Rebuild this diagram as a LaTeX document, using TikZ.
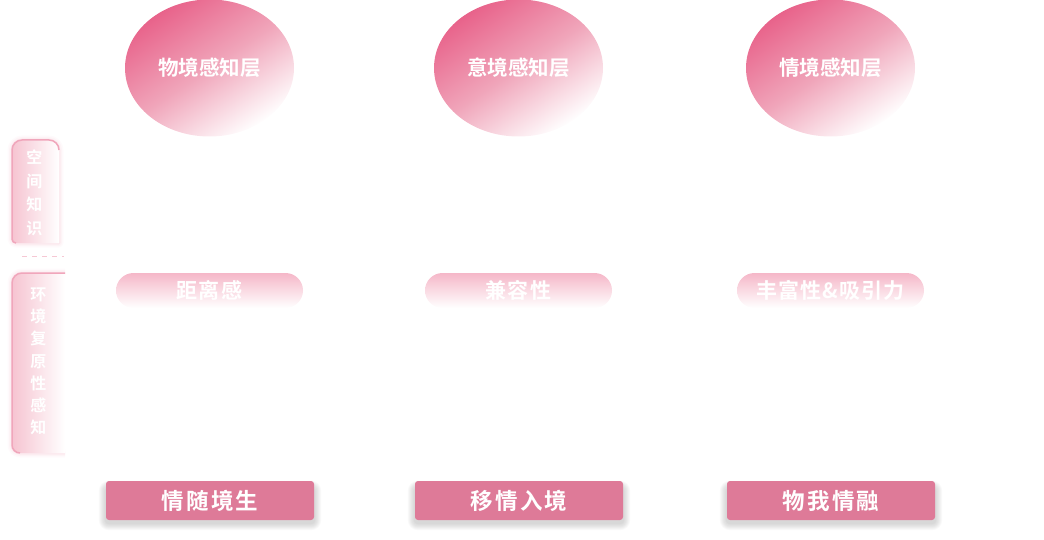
\documentclass[tikz,border=0pt]{standalone}
\usepackage{fontspec}
\newfontfamily\cjk{Noto Sans CJK SC}[BoldFont={Noto Sans CJK SC Bold}]
\usetikzlibrary{shapes.geometric,backgrounds}
\definecolor{pinkA}{HTML}{E8628A}
\definecolor{pinkM}{HTML}{F0A5BA}
\definecolor{pinkP}{HTML}{F5B7C8}
\definecolor{boxC}{HTML}{DE7A98}
\definecolor{lbpink}{HTML}{F6C4D1}
\definecolor{edgepink}{HTML}{F0A6BB}
\definecolor{dashpink}{HTML}{F6C8D4}
\tikzset{
  layer/.style={ellipse, minimum width=169pt, minimum height=137pt, inner sep=0pt,
    top color=pinkA, bottom color=white, middle color=pinkM, shading angle=34,
    text=white, font=\cjk\bfseries\fontsize{20.5}{20.5}\selectfont},
  pill/.style={rectangle, rounded corners=17.5pt, minimum width=187pt, minimum height=35pt, inner sep=0pt,
    top color=pinkP, middle color=pinkP!75!white, bottom color=white,
    text=white, font=\cjk\bfseries\fontsize{21}{21}\selectfont\addfontfeatures{LetterSpace=5}},
  result/.style={rectangle, rounded corners=3pt, minimum width=208pt, minimum height=39pt, inner sep=0pt,
    fill=boxC, text=white, font=\cjk\bfseries\fontsize{22.5}{22.5}\selectfont\addfontfeatures{LetterSpace=9}},
  vlabel/.style={align=center, inner sep=0pt, text=white},
  glow/.style={edgepink, line join=round},
  sepline/.style={dashpink, line width=1pt, dash pattern=on 5pt off 5pt}
}
\begin{document}
\begin{tikzpicture}[x=1pt,y=-1pt]
\useasboundingbox (0,0) rectangle (1044,540);

% top layer ellipses
\node[layer] (l1) at (209.5,68) {\raisebox{1pt}{物境感知层}};
\node[layer] (l2) at (518.5,68) {\raisebox{1pt}{意境感知层}};
\node[layer] (l3) at (830.5,68) {\raisebox{1pt}{情境感知层}};

% pills
\node[pill] (p1) at (209.5,290.5) {距离感};
\node[pill] (p2) at (518.5,290.5) {兼容性};
\node[pill] (p3) at (830.5,290.5) {丰富性\&吸引力};

% bottom results
\node[result] (r1) at (210,500.5) {情随境生};
\node[result] (r2) at (519,500.5) {移情入境};
\node[result] (r3) at (831,500.5) {物我情融};

\begin{scope}[on background layer]
  \foreach \n in {r1,r2,r3}{
    \foreach \i in {1,...,7}{
      \fill[black, opacity=0.022, rounded corners=3pt+\i pt]
        ([shift={(-\i,-\i+7)}]\n.north west) rectangle ([shift={(\i,\i+3)}]\n.south east);
    }
  }
\end{scope}

% left box 1
\foreach \w/\o in {9/0.05,6/0.08,3/0.14}{
  \draw[glow, line width=\w pt, opacity=\o]
    (59,243) [rounded corners=4pt] -- (12,243) [rounded corners=10pt] -- (12,140) -- (59,140) [sharp corners] -- cycle;
}
\shade[left color=lbpink, right color=white]
  (59,243) [rounded corners=4pt] -- (12,243) [rounded corners=10pt] -- (12,140) -- (59,140) [sharp corners] -- cycle;
\draw[edgepink, line width=1.5pt]
  (16,243) [rounded corners=4pt] -- (12,243) [rounded corners=10pt] -- (12,140) -- (59,140) -- (59,150);
\node[vlabel, font=\cjk\bfseries\fontsize{16}{23.5}\selectfont] (v1) at (34.5,193) {空\\间\\知\\识};

% separator
\coordinate (s1) at (22,256);
\coordinate (s2) at (64,256);
\draw[sepline] (s1) -- (s2);

% left box 2
\foreach \w/\o in {9/0.05,6/0.08,3/0.14}{
  \draw[glow, line width=\w pt, opacity=\o]
    (65,453) [rounded corners=8pt] -- (12,453) [rounded corners=10pt] -- (12,273) [sharp corners] -- (65,273);
}
\shade[left color=lbpink, right color=white]
  (65,453) [rounded corners=8pt] -- (12,453) [rounded corners=10pt] -- (12,273) [sharp corners] -- (65,273) -- cycle;
\draw[edgepink, line width=1.5pt]
  (20,453) [rounded corners=8pt] -- (12,453) [rounded corners=10pt] -- (12,273) [sharp corners] -- (65,273);
\node[vlabel, font=\cjk\bfseries\fontsize{16}{22.2}\selectfont] (v2) at (38.5,361.5) {环\\境\\复\\原\\性\\感\\知};
\end{tikzpicture}
\end{document}
